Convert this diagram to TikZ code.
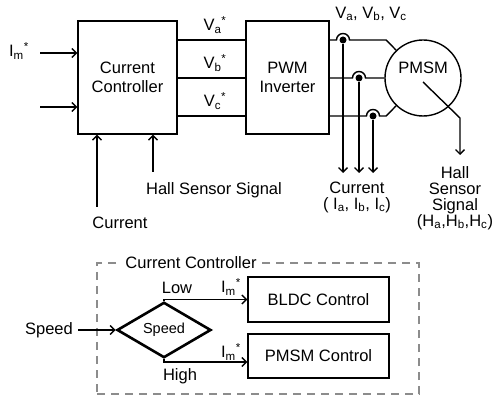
\documentclass[tikz,border=0pt]{standalone}
\usepackage{fontspec}
\setmainfont{Liberation Sans}
\usepackage{xcolor}
\usetikzlibrary{positioning,calc,shapes.geometric,arrows.meta}
\definecolor{framegray}{HTML}{8C8C8C}

\begin{document}
\begin{tikzpicture}[x=1pt, y=-1pt,
  >={Straight Barb[length=4.5pt,width=9pt]},
  wire/.style={line width=1.4pt},
  blk/.style={draw, line width=1.4pt, inner sep=0pt, align=center, font=\fontsize{16.5}{18.5}\selectfont},
  txt/.style={font=\fontsize{16.5}{16}\selectfont, inner sep=1pt, align=center},
  motor/.style={draw, circle, line width=1.4pt, minimum size=76pt, inner sep=0pt},
  tap/.style={circle, fill, inner sep=0pt, minimum size=7pt},
  decide/.style={draw, diamond, line width=2.6pt, minimum width=94pt, minimum height=37pt, inner sep=0pt, font=\fontsize{14.5}{15}\selectfont},
  frame/.style={draw=framegray, line width=1.4pt, dash pattern=on 8pt off 6pt, inner sep=0pt},
]
\useasboundingbox (0,0) rectangle (501,398);

% Top drive chain
\node[blk, minimum width=99pt, minimum height=113pt] (cc) at (127.5,77.5) {Current\\Controller};
\node[blk, minimum width=83pt, minimum height=113pt] (pwm) at (287.5,77.5) {PWM\\Inverter};
\node[motor, label={[txt, yshift=10pt]center:PMSM}] (pmsm) at (423,78) {};

% Controller inputs
\node[txt] (imlbl) at (19,51) {I\textsubscript{m}\textsuperscript{*}};
\coordinate (imin) at (40,53);
\coordinate (auxin) at (40,107);
\draw[wire,->] (imin) -- (imin -| cc.west);
\draw[wire,->] (auxin) -- (auxin -| cc.west);
\coordinate (curin) at (97,207);
\coordinate (hallin) at (153,172);
\draw[wire,->] (curin) -- (curin |- cc.south);
\draw[wire,->] (hallin) -- (hallin |- cc.south);
\node[txt] (curlbl) at (120,223) {Current};
\node[txt] (halllbl) at (214,190) {Hall Sensor Signal};

% Reference voltages
\foreach \y/\p in {40/a,78/b,116/c} {
  \draw[wire] (cc.east |- 0,\y) -- (pwm.west |- 0,\y);
  \node[txt] (v\p) at (215,\y-15) {V\textsubscript{\p}\textsuperscript{*}};
}

% Phase wires with current taps
\node[tap] (ta) at (343,40) {};
\node[tap] (tb) at (359,78) {};
\node[tap] (tc) at (373,116) {};
\coordinate (ibot) at (0,173);
\foreach \p/\ang in {a/134,b/180,c/226} {
  \draw[wire] (pwm.east |- t\p) -- ([xshift=-6.5pt]t\p.center)
    arc[start angle=180, end angle=360, radius=6.5]
    -- ([xshift=-10pt]pmsm.\ang |- t\p) -- (pmsm.\ang);
  \draw[wire,->] (t\p) -- (t\p |- ibot);
}
\node[txt] (vabc) at (371,14) {V\textsubscript{a}, V\textsubscript{b}, V\textsubscript{c}};
\node[txt] (iabc) at (357,197) {Current\\( I\textsubscript{a}, I\textsubscript{b}, I\textsubscript{c})};

% Hall sensor output
\coordinate (hbend) at (460,118);
\coordinate (hout) at (460,155);
\draw[wire,->] ([yshift=-4pt]pmsm.center) -- (hbend) -- (hout);
\node[txt] (hsig) at (455,198) {Hall\\Sensor\\Signal\\(H\textsubscript{a},H\textsubscript{b},H\textsubscript{c})};

% Inside the current controller
\node[frame, minimum width=322pt, minimum height=131pt] (ccbox) at (258,328.5) {};
\node[txt, fill=white, inner xsep=5pt] (cctitle) at (191,263) {Current Controller};
\node[decide] (spd) at (164,330) {Speed};
\node[txt] (spdin) at (49,330) {Speed};
\draw[wire,->, shorten <=4pt] (spdin) -- (spd.west);
\node[blk, minimum width=141pt, minimum height=45pt] (bldc) at (318.5,299.5) {BLDC Control};
\node[blk, minimum width=141pt, minimum height=44pt] (pmsmc) at (318.5,356) {PMSM Control};
\draw[wire,->] (spd.north) |- (bldc.west);
\draw[wire,->] (spd.south) |- ([yshift=-6pt]pmsmc.west);
\node[txt] (low) at (177,288) {Low};
\node[txt] (high) at (180,376) {High};
\node[txt] (imlow) at (231,287) {I\textsubscript{m}\textsuperscript{*}};
\node[txt] (imhigh) at (231,352) {I\textsubscript{m}\textsuperscript{*}};
\end{tikzpicture}
\end{document}
